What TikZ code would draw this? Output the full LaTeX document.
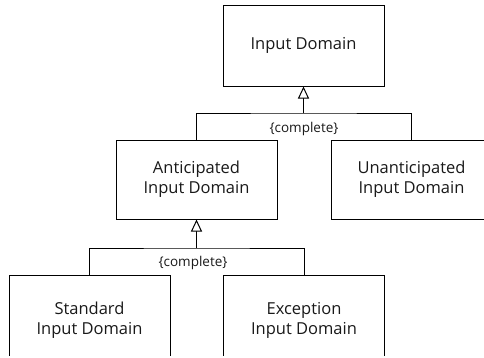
\documentclass[tikz,border=0pt]{standalone}
\usepackage{fontspec}
\setmainfont{Open Sans}
\usetikzlibrary{arrows.meta}
\begin{document}
\begin{tikzpicture}[x=1pt,y=-1pt,
  cls/.style={draw, line width=1pt, minimum width=161pt, inner sep=0pt,
    align=center, font=\fontsize{16.5}{20}\selectfont, text=black!90},
  link/.style={line width=1pt},
  gen/.style={line width=1pt, -{Triangle[open,length=12pt,width=11pt,fill=white]}},
  constraint/.style={font=\fontsize{13.5}{16}\selectfont, text=black!90, inner sep=1pt}]
\useasboundingbox (0,0) rectangle (484,357);
\clip (0,0) rectangle (484,355.5);
% classes
\node[cls, minimum height=81pt] (top) at (303.5,45.5) {Input Domain};
\node[cls, minimum height=79pt] (antic) at (196.5,179.5) {Anticipated\\Input Domain};
\node[cls, minimum height=79pt] (unantic) at (411.5,179.5) {Unanticipated\\Input Domain};
\node[cls, minimum height=90pt] (std) at (89.5,320) {Standard\\Input Domain};
\node[cls, minimum height=90pt] (exc) at (304,320) {Exception\\Input Domain};
% generalisation junctions
\coordinate (j1) at (303.5,113);
\coordinate (j2) at (196.5,248);
\draw[link] (antic.north) |- (j1) -| (unantic.north);
\draw[gen] (j1) -- (top.south);
\draw[link] (std.north) |- (j2) -| (exc.north);
\draw[gen] (j2) -- (antic.south);
% constraints
\node[constraint] (c1) at (304,129) {\{complete\}};
\node[constraint] (c2) at (193,263) {\{complete\}};
\end{tikzpicture}
\end{document}
